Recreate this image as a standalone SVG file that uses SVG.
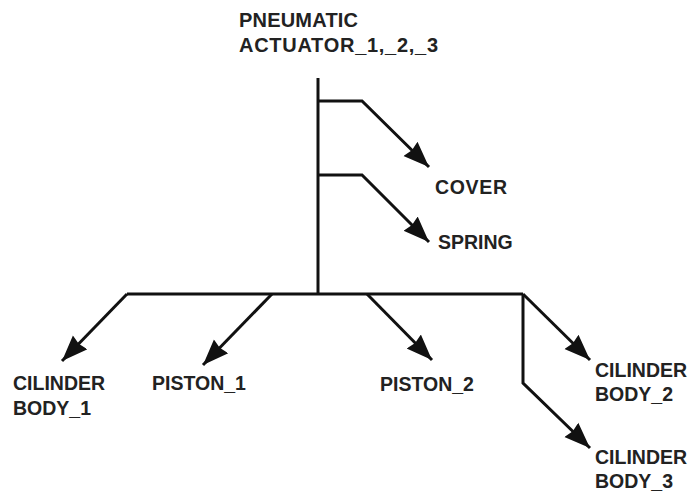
<svg xmlns="http://www.w3.org/2000/svg" width="693" height="499" viewBox="0 0 693 499">
<style>
text{font-family:"Liberation Sans",Arial,sans-serif;font-weight:bold;font-size:19.5px;fill:#222}
.t{font-size:20px}
.c{fill:none;stroke:#111;stroke-width:3;stroke-linejoin:miter}
</style>
<defs>
<marker id="ah" markerUnits="userSpaceOnUse" markerWidth="28" markerHeight="22" refX="26" refY="10" orient="auto" viewBox="0 0 28 20">
<path d="M0,0 L26,10 L0,20 L2,10 Z" fill="#111"/>
</marker>
</defs>
<g id="connectors">
<path class="c" d="M318,78 V294"/>
<path class="c" d="M318,101 H362 L429,167" marker-end="url(#ah)"/>
<path class="c" d="M318,175 H362 L429,242" marker-end="url(#ah)"/>
<path class="c" d="M127,294 H523"/>
<path class="c" d="M127,294 L62,361" marker-end="url(#ah)"/>
<path class="c" d="M272,294 L203,365" marker-end="url(#ah)"/>
<path class="c" d="M367,294 L432,360" marker-end="url(#ah)"/>
<path class="c" d="M523,294 L590,360" marker-end="url(#ah)"/>
<path class="c" d="M523,294 V383 L590,448" marker-end="url(#ah)"/>
</g>
<g id="pneumatic_actuator"><text class="t" x="239" y="27" textLength="119">PNEUMATIC</text><text class="t" x="239" y="52" textLength="199">ACTUATOR_1,_2,_3</text></g>
<g id="cover"><text x="435" y="194" textLength="72">COVER</text></g>
<g id="spring"><text x="438" y="249">SPRING</text></g>
<g id="cilinder_body_1"><text x="13" y="390">CILINDER</text><text x="13" y="415">BODY_1</text></g>
<g id="piston_1"><text x="152" y="390">PISTON_1</text></g>
<g id="piston_2"><text x="380" y="391">PISTON_2</text></g>
<g id="cilinder_body_2"><text x="595" y="377">CILINDER</text><text x="595" y="401">BODY_2</text></g>
<g id="cilinder_body_3"><text x="595" y="464">CILINDER</text><text x="595" y="488">BODY_3</text></g>
</svg>
